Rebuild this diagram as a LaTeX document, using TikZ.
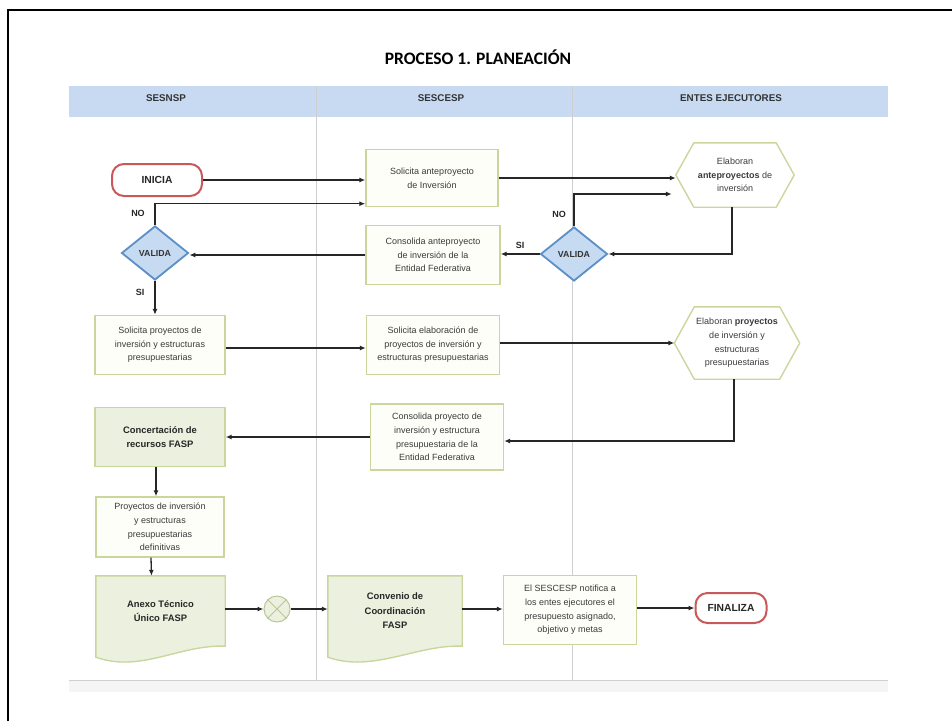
\documentclass[tikz,border=0pt]{standalone}
\usepackage{fontspec}
\setmainfont{Liberation Sans}
\newfontfamily\titlefont{Carlito}
\usepackage{tikz}
\usetikzlibrary{positioning, calc, arrows.meta, shapes.geometric, backgrounds}

\definecolor{laneblue}{HTML}{C7DAF1}
\definecolor{laneline}{HTML}{CFCFCF}
\definecolor{boxline}{HTML}{C9D69E}
\definecolor{boxfill}{HTML}{FEFEF8}
\definecolor{greenfill}{HTML}{EBF1DE}
\definecolor{termred}{HTML}{C9585A}
\definecolor{diaedge}{HTML}{5B8FC6}
\definecolor{diafill}{HTML}{C6DAF2}
\definecolor{txtgray}{HTML}{3A3A3A}

\begin{document}
\begin{tikzpicture}[
    x=1pt, y=-1pt,
    procbox/.style={rectangle, draw=boxline, fill=boxfill, line width=1.4pt, align=center, inner sep=1pt, text=txtgray, font=\fontsize{9}{13.6}\selectfont},
    greenbox/.style={procbox, fill=greenfill, text=black!85, font=\bfseries\fontsize{9.4}{14.5}\selectfont},
    hexbox/.style={align=center, inner sep=0pt, text=txtgray, font=\fontsize{9}{13.6}\selectfont},
    hexline/.style={draw=boxline, line width=1.4pt, line join=round},
    docbox/.style={align=center, inner sep=0pt, text=black!85, font=\bfseries\fontsize{9.4}{14.5}\selectfont},
    docshape/.style={draw=boxline, fill=greenfill, line width=1.4pt},
    decision/.style={diamond, draw=diaedge, fill=diafill, line width=1.8pt, inner sep=0pt, minimum width=67pt, minimum height=54pt, font=\bfseries\fontsize{8.8}{10}\selectfont, text=black!80},
    term/.style={rectangle, rounded corners=12pt, draw=termred, fill=white, line width=2pt, font=\bfseries\fontsize{10.3}{12}\selectfont, text=black!85},
    lanehead/.style={font=\bfseries\fontsize{9.8}{11}\selectfont, text=black!80},
    lbl/.style={font=\bfseries\fontsize{9}{10}\selectfont, text=black!85},
    arr/.style={-{Latex[length=6pt, width=5pt]}, line width=1.3pt, black!85},
]
\useasboundingbox (0,0) rectangle (952,721);

% Frame and title
\draw[line width=2.2pt] (8,721) -- (8,10) -- (952,10);
\node[font=\titlefont\bfseries\fontsize{17.5}{20}\selectfont] (title) at (478,57) {PROCESO 1. PLANEACIÓN};

% Lanes
\fill[laneblue] (69,86) rectangle (888,117);
\fill[black!4] (69,681) rectangle (888,692);
\draw[laneline, line width=1pt] (69,680) -- (888,680);
\draw[laneline, line width=1pt] (316,86) -- (316,680);
\draw[laneline, line width=1pt] (572,86) -- (572,680);
\node[lanehead] (hsesnsp) at (166,98) {SESNSP};
\node[lanehead] (hsescesp) at (441,98) {SESCESP};
\node[lanehead] (hentes) at (731,98) {ENTES EJECUTORES};

% Row 1
\node[term, minimum width=90pt, minimum height=32pt] (inicia) at (157,180) {INICIA};
\node[procbox, minimum width=132pt, minimum height=57pt] (solAnte) at (432,178) {Solicita anteproyecto\\de Inversión};
\node[hexbox, minimum width=118pt, minimum height=64pt] (elabAnte) at (735,175) {Elaboran\\\textbf{anteproyectos} de\\inversión};

% Row 2
\node[decision] (valida1) at (155,253) {VALIDA};
\node[procbox, minimum width=134pt, minimum height=59pt] (consAnte) at (433,255) {Consolida anteproyecto\\de inversión de la\\Entidad Federativa};
\node[decision] (valida2) at (574,254) {VALIDA};
\node[lbl] (no1) at (138,213) {NO};
\node[lbl] (si1) at (140,292) {SI};
\node[lbl] (no2) at (559,214) {NO};
\node[lbl] (si2) at (520,245) {SI};

% Row 3
\node[procbox, minimum width=130pt, minimum height=59pt] (solProy) at (160,345) {Solicita proyectos de\\inversión y estructuras\\presupuestarias};
\node[procbox, minimum width=133pt, minimum height=59pt, inner sep=0pt] (solElab) at (433,345) {Solicita elaboración de\\proyectos de inversión y\\estructuras presupuestarias};
\node[hexbox, minimum width=125pt, minimum height=72pt] (elabProy) at (737,343) {Elaboran \textbf{proyectos}\\de inversión y\\estructuras\\presupuestarias};

% Row 4
\node[greenbox, minimum width=130pt, minimum height=59pt] (concert) at (160,437) {Concertación de\\recursos FASP};
\node[procbox, minimum width=133pt, minimum height=66pt] (consProy) at (437,437) {Consolida proyecto de\\inversión y estructura\\presupuestaria de la\\Entidad Federativa};

% Row 5
\node[procbox, minimum width=128pt, minimum height=60pt] (proyDef) at (160,527) {Proyectos de inversión\\y estructuras\\presupuestarias\\definitivas};

% Row 6
\node[docbox, minimum width=129pt, minimum height=70pt] (anexo) at (160.5,611) {Anexo Técnico\\Único FASP};
\node[circle, draw=boxline!80!gray, fill=greenfill, line width=1pt, minimum size=26pt] (merge) at (277,609) {};
\node[docbox, minimum width=134pt, minimum height=70pt] (convenio) at (395,611) {Convenio de\\Coordinación\\FASP};
\node[procbox, minimum width=133pt, minimum height=69pt] (notifica) at (570,610) {El SESCESP notifica a\\los entes ejecutores el\\presupuesto asignado,\\objetivo y metas};
\node[term, minimum width=71pt, minimum height=30pt] (finaliza) at (731,608) {FINALIZA};

% Hexagons and documents
\foreach \n/\c in {elabAnte/18, elabProy/20}
  \draw[hexline] (\n.west) -- ($(\n.north west)+(\c,0)$) -- ($(\n.north east)+(-\c,0)$)
    -- (\n.east) -- ($(\n.south east)+(-\c,0)$) -- ($(\n.south west)+(\c,0)$) -- cycle;
\begin{scope}[on background layer]
\foreach \n in {anexo, convenio}
  \draw[docshape] (\n.north west) -- (\n.north east) -- (\n.south east)
    .. controls +(-45,-2) and +(45,16) .. ($(\n.south west)+(0,11)$) -- cycle;
\end{scope}
\draw[boxline!80!gray, line width=1pt] (merge.north west) -- (merge.south east);
\draw[boxline!80!gray, line width=1pt] (merge.north east) -- (merge.south west);

% Arrows
\draw[arr] (inicia.east) -- (inicia.east -| solAnte.west);
\draw[arr] (solAnte.east) -- (solAnte.east -| elabAnte.west);
\draw[arr] (valida1.north) |- ([yshift=3.5pt]solAnte.south west);
\draw[arr] (valida2.north) |- ([xshift=-4pt, yshift=-19pt]elabAnte.west);
\draw[arr] ([xshift=-3pt]elabAnte.south) |- (valida2.east);
\draw[arr] (valida2.west) -- (valida2.west -| consAnte.east);
\draw[arr] (consAnte.west) -- (consAnte.west -| valida1.east);
\draw[arr] (valida1.south) -- (valida1.south |- solProy.north);
\draw[arr] ([yshift=-3pt]solProy.east) -- ([yshift=-3pt]solProy.east -| solElab.west);
\draw[arr] ([yshift=2pt]solElab.east) -- ([yshift=2pt]solElab.east -| elabProy.west);
\draw[arr] ([xshift=-3pt]elabProy.south) |- ([yshift=-4pt]consProy.east);
\draw[arr] (consProy.west) -- (consProy.west -| concert.east);
\draw[arr] ([xshift=-4pt]concert.south) -- ([xshift=-4pt]proyDef.north);
\draw[arr] ([xshift=-9pt]proyDef.south) -- ([xshift=-9pt]anexo.north);
\draw[arr] ([yshift=2pt]anexo.east) -- (merge.west);
\draw[arr] (merge.east) -- (merge.east -| convenio.west);
\draw[arr] ([yshift=2pt]convenio.east) -- ([yshift=2pt]convenio.east -| notifica.west);
\draw[arr] ([yshift=2pt]notifica.east) -- ([yshift=2pt]notifica.east -| finaliza.west);

\end{tikzpicture}
\end{document}
